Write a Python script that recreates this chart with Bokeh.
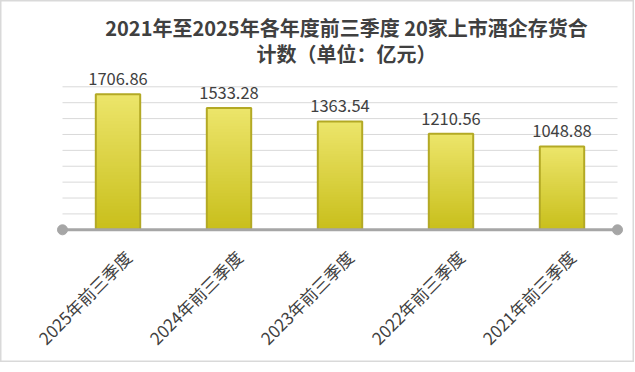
import math
from bokeh.plotting import figure
from bokeh.models import Range1d, Label
from bokeh.core.properties import value
from bokeh.embed import file_html
from bokeh.resources import INLINE

# ---- data ----
categories = ["2025年前三季度", "2024年前三季度", "2023年前三季度", "2022年前三季度", "2021年前三季度"]
values = [1706.86, 1533.28, 1363.54, 1210.56, 1048.88]
grid_ticks = [200, 400, 600, 800, 1000, 1200, 1400, 1600, 1800]
title_line1 = "2021年至2025年各年度前三季度 20家上市酒企存货合"
title_line2 = "计数（单位：亿元）"

FONT = "Noto Sans CJK SC"
TXT = "#404040"

W, H = 634, 362
n = len(categories)
xs = [i + 0.5 for i in range(n)]

# layout: plot area spans the whole canvas
px_per_cat = 111.0
left_px = 62.0
px_per_unit = 0.07944
base_px = 229.3
x_range = Range1d(-left_px / px_per_cat, (W - left_px) / px_per_cat)
y_range = Range1d(-(H - base_px) / px_per_unit, base_px / px_per_unit)

p = figure(width=W, height=H, output_backend="svg", toolbar_location=None,
           x_range=x_range, y_range=y_range,
           min_border_left=0, min_border_right=0, min_border_top=0, min_border_bottom=0)
p.axis.visible = False
p.grid.visible = False
p.outline_line_color = "#D9D9D9"
p.outline_line_width = 2
p.background_fill_color = "white"
p.border_fill_color = "white"

# title
for txt, ypos in ((title_line1, H - 27), (title_line2, H - 52.5)):
    p.add_layout(Label(x=346, y=ypos, x_units="screen", y_units="screen", text=txt,
                       text_align="center", text_baseline="middle", text_font=FONT,
                       text_font_size="20px", text_font_style="bold", text_color=TXT))

# grid lines
p.segment(x0=[0] * len(grid_ticks), x1=[n] * len(grid_ticks), y0=grid_ticks, y1=grid_ticks,
          line_color="#D9D9D9", line_width=1)

# gradient bars: overlapping bars, tallest (lightest) first
top_c = (0xEC, 0xE5, 0x6A)
bot_c = (0xC8, 0xBE, 0x1A)
N = 40
sx, st, sc = [], [], []
for k in range(N):
    f = (N - k) / N
    c = tuple(int(round(bot_c[j] + (top_c[j] - bot_c[j]) * f)) for j in range(3))
    for i, v in enumerate(values):
        sx.append(xs[i]); st.append(v * (N - k) / N); sc.append("#%02x%02x%02x" % c)
p.vbar(x=sx, bottom=0, top=st, width=0.4, fill_color=sc, line_color=None)
p.vbar(x=xs, bottom=0, top=values, width=0.4, fill_alpha=0, line_color="#B3A925", line_width=2)

# baseline with end circles
p.segment(x0=[0], x1=[n], y0=[0], y1=[0], line_color="#A6A6A6", line_width=3)
p.scatter(x=[0, n], y=[0, 0], size=10, marker="circle", fill_color="#A6A6A6", line_color="#A6A6A6")

# value labels
p.text(x=xs, y=values, text=["%.2f" % v for v in values], text_align="center",
       text_baseline="alphabetic", y_offset=-15, text_font=value(FONT),
       text_font_size="16.5px", text_color=TXT)

# category labels (rotated)
p.text(x=xs, y=[0] * n, text=categories, angle=math.pi / 4, text_align="right",
       text_baseline="middle", x_offset=10, y_offset=24, text_font=value(FONT),
       text_font_size="17px", text_color=TXT)

open("out.html", "w").write(file_html(p, INLINE))
